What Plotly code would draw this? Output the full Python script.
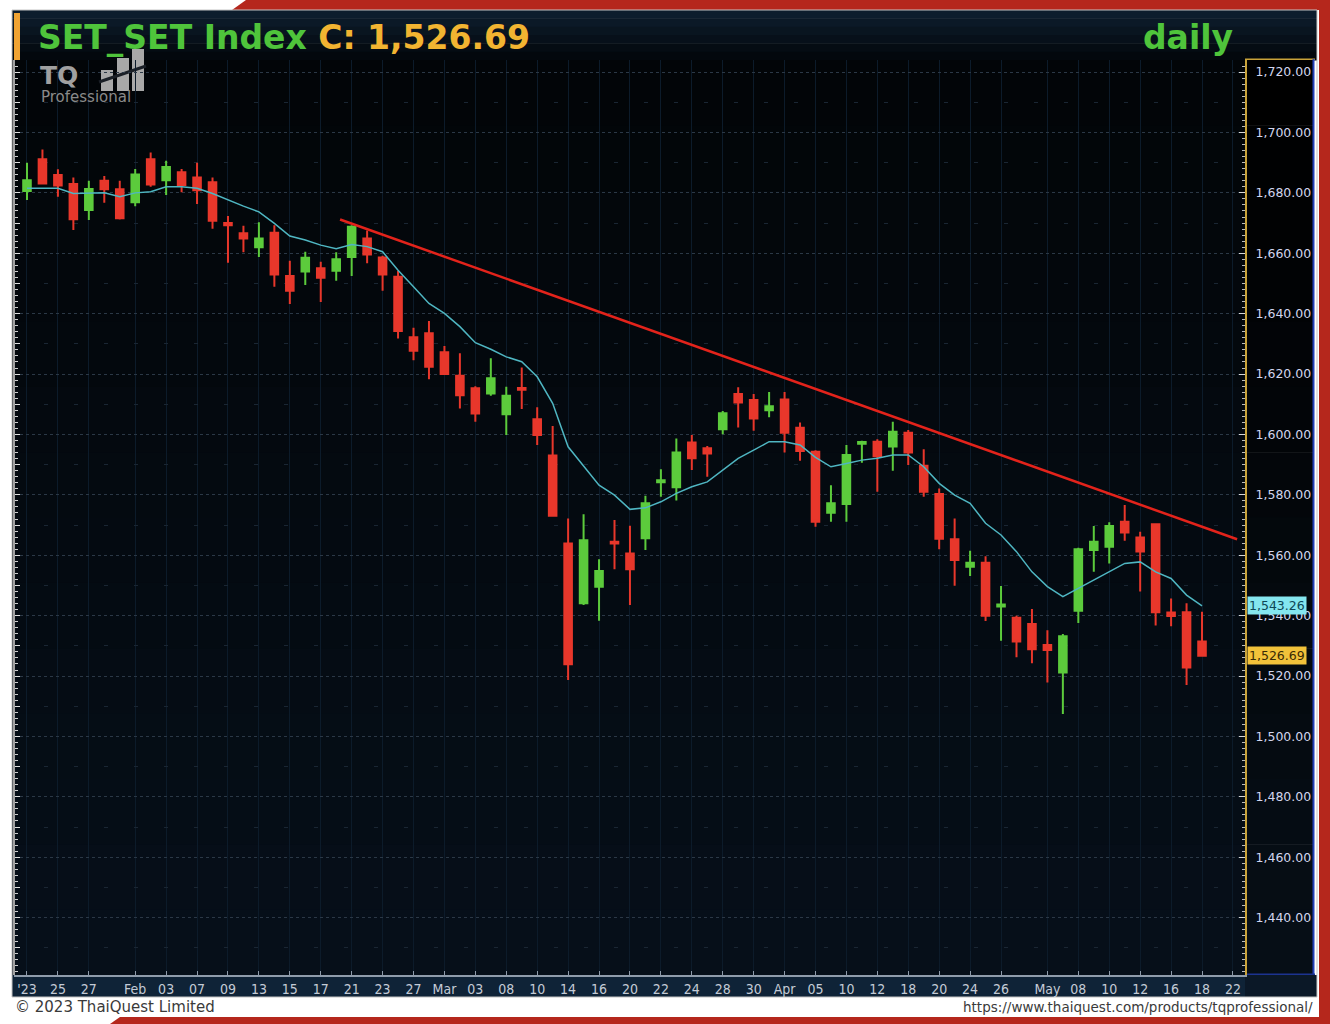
import plotly.graph_objects as go

# ---------------- data ----------------
open_ = [1680.6, 1691.1, 1685.9, 1682.9, 1674.3, 1684.0, 1681.2, 1676.9, 1691.1, 1684.2,
         1686.8, 1685.1, 1683.5, 1670.0, 1666.6, 1662.0, 1666.8, 1652.5, 1654.0, 1655.0,
         1654.2, 1658.8, 1664.9, 1658.6, 1652.2, 1632.2, 1633.5, 1627.2, 1619.4, 1615.3,
         1613.6, 1606.7, 1615.4, 1605.0, 1593.0, 1563.9, 1544.1, 1549.6, 1564.5, 1560.6,
         1565.6, 1584.2, 1582.5, 1597.3, 1595.4, 1601.7, 1613.4, 1611.4, 1608.0, 1611.6,
         1602.2, 1594.3, 1574.1, 1577.0, 1596.9, 1597.6, 1596.0, 1600.6, 1589.6, 1580.3,
         1565.3, 1556.2, 1557.5, 1543.0, 1539.3, 1537.2, 1530.3, 1521.2, 1541.6, 1561.7,
         1562.8, 1571.1, 1565.9, 1570.3, 1541.0, 1541.1, 1531.4]
high = [1690.0, 1694.4, 1687.8, 1685.1, 1684.0, 1685.6, 1684.0, 1687.9, 1693.4, 1690.6,
        1687.9, 1690.0, 1685.1, 1672.3, 1669.1, 1670.3, 1669.3, 1657.5, 1660.5, 1657.2,
        1660.3, 1669.3, 1667.5, 1659.2, 1654.1, 1635.3, 1637.6, 1629.3, 1626.9, 1616.0,
        1625.2, 1615.8, 1622.2, 1609.0, 1602.8, 1572.2, 1573.6, 1558.7, 1571.7, 1569.8,
        1579.7, 1588.5, 1598.7, 1599.8, 1596.2, 1607.8, 1615.6, 1613.4, 1614.1, 1614.1,
        1604.0, 1594.8, 1583.2, 1596.5, 1597.9, 1598.4, 1604.2, 1601.5, 1595.1, 1582.1,
        1572.2, 1561.5, 1559.7, 1549.8, 1540.0, 1542.2, 1535.2, 1533.9, 1562.5, 1569.7,
        1570.9, 1576.6, 1567.8, 1570.6, 1545.7, 1544.1, 1541.3]
low = [1677.6, 1682.9, 1678.7, 1667.7, 1671.0, 1676.7, 1671.2, 1675.6, 1682.0, 1679.3,
       1680.2, 1676.3, 1668.1, 1656.9, 1660.3, 1658.8, 1648.9, 1643.2, 1649.5, 1643.9,
       1650.9, 1652.5, 1656.7, 1647.6, 1631.8, 1624.6, 1618.3, 1619.7, 1608.6, 1604.2,
       1612.8, 1599.8, 1608.4, 1596.5, 1573.0, 1518.7, 1543.5, 1538.3, 1555.4, 1543.5,
       1561.7, 1579.4, 1578.1, 1588.2, 1586.0, 1600.1, 1602.3, 1601.2, 1605.7, 1594.0,
       1591.3, 1569.4, 1571.1, 1571.1, 1590.6, 1581.0, 1588.0, 1589.9, 1579.4, 1562.0,
       1549.9, 1553.1, 1538.2, 1531.7, 1526.2, 1524.2, 1517.9, 1507.4, 1537.6, 1554.5,
       1557.3, 1564.8, 1548.0, 1536.7, 1536.5, 1517.0, 1526.4]
close = [1684.2, 1683.1, 1682.4, 1671.3, 1681.3, 1681.2, 1671.6, 1686.1, 1682.8, 1688.6,
         1682.6, 1680.9, 1670.8, 1669.3, 1664.9, 1664.9, 1653.0, 1647.6, 1658.5, 1651.9,
         1658.0, 1668.8, 1659.6, 1653.0, 1634.3, 1627.7, 1622.4, 1620.0, 1613.0, 1606.9,
         1618.6, 1612.8, 1614.8, 1599.8, 1573.1, 1523.9, 1565.0, 1554.8, 1563.9, 1555.4,
         1577.2, 1584.8, 1594.0, 1592.1, 1593.7, 1607.0, 1610.6, 1605.3, 1609.3, 1600.6,
         1594.5, 1571.1, 1577.2, 1593.2, 1597.5, 1592.8, 1600.9, 1594.0, 1581.0, 1565.5,
         1558.4, 1557.5, 1540.0, 1543.7, 1531.4, 1528.9, 1528.6, 1533.2, 1562.0, 1564.5,
         1569.7, 1567.5, 1561.2, 1541.1, 1539.9, 1522.8, 1526.69]
ma_line = [1681.5, 1681.5, 1681.5, 1679.8, 1679.8, 1680.0, 1678.7, 1680.0, 1680.4, 1682.0,
           1682.0, 1681.5, 1679.8, 1677.6, 1675.6, 1673.7, 1669.9, 1665.7, 1664.4, 1662.7,
           1661.5, 1662.9, 1662.2, 1660.5, 1654.4, 1648.9, 1643.4, 1640.1, 1635.7, 1630.4,
           1628.2, 1625.7, 1624.1, 1619.1, 1610.3, 1595.9, 1589.5, 1583.2, 1579.9, 1575.2,
           1575.7, 1577.7, 1580.5, 1582.7, 1584.3, 1588.2, 1592.1, 1594.8, 1597.6, 1597.6,
           1596.5, 1592.4, 1589.3, 1590.4, 1591.5, 1592.1, 1593.2, 1593.2, 1589.3, 1583.8,
           1579.9, 1577.2, 1570.6, 1566.7, 1561.2, 1554.5, 1549.6, 1546.3, 1549.1, 1551.8,
           1554.5, 1557.3, 1557.8, 1554.5, 1552.3, 1546.8, 1543.26]
trend_x = [20.25, 78.27]
trend_y = [1671.2, 1565.3]

tick_idx = [0, 2, 4, 7, 9, 11, 13, 15, 17, 19, 21, 23, 25, 27, 29, 31, 33, 35, 37, 39,
            41, 43, 45, 47, 49, 51, 53, 55, 57, 59, 61, 63, 66, 68, 70, 72, 74, 76, 78]
tick_text = ["'23", "25", "27", "Feb", "03", "07", "09", "13", "15", "17", "21", "23", "27",
             "Mar", "03", "08", "10", "14", "16", "20", "22", "24", "28", "30",
             "Apr", "05", "10", "12", "18", "20", "24", "26",
             "May", "08", "10", "12", "16", "18", "22"]
minor_grid_levels = [1430, 1450, 1470, 1490, 1510, 1530, 1550, 1570, 1590, 1610,
                     1630, 1650, 1670, 1690, 1710]

# ---------------- styling ----------------
W, H = 1330, 1024
L, R, T, B = 14, 1245, 60, 975
GREEN = "#5ccb3c"
RED = "#e8372b"


def px(x):
    return (x - L) / (R - L)


def py(y):
    return (B - y) / (B - T)


def rect(x0, y0, x1, y1, fill, line=None, lw=0):
    return dict(type="rect", xref="paper", yref="paper", layer="below",
                x0=px(x0), x1=px(x1), y0=py(y0), y1=py(y1),
                fillcolor=fill, line=dict(width=lw, color=line or fill))


def lerp(c1, c2, t):
    return "rgb(%d,%d,%d)" % tuple(round(a + (b - a) * t) for a, b in zip(c1, c2))


shapes = []
# red frame pieces on the white page
shapes.append(dict(type="path", xref="paper", yref="paper", layer="below",
                   path="M %f %f L %f %f L %f %f L %f %f Z" % (px(246), py(0), px(1330), py(0),
                                                             px(1330), py(10), px(232), py(10)),
                   fillcolor="#b5271c", line=dict(width=0)))
shapes.append(rect(1319, 0, 1330, 1024, "#b5271c"))
shapes.append(dict(type="path", xref="paper", yref="paper", layer="below",
                   path="M %f %f L %f %f L %f %f L %f %f Z" % (px(110), py(1024), px(120), py(1017),
                                                             px(1330), py(1017), px(1330), py(1024)),
                   fillcolor="#b5271c", line=dict(width=0)))
# title strip gradient
n = 6
for i in range(n):
    y0 = 10 + (T - 10) * i / n
    y1 = 10 + (T - 10) * (i + 1) / n + 0.5
    shapes.append(rect(12, y0, 1317, y1, lerp((13, 29, 45), (3, 8, 13), i / (n - 1))))
# plot area gradient
n = 14
for i in range(n):
    y0 = T + (B - T) * i / n
    y1 = T + (B - T) * (i + 1) / n + 0.5
    shapes.append(rect(12, y0, R, y1, lerp((2, 5, 8), (6, 15, 25), i / (n - 1))))
    shapes.append(rect(R, y0, 1314, y1, lerp((0, 0, 0), (6, 14, 22), i / (n - 1))))
# x-axis bar and corner
shapes.append(rect(12, B, R, 997, "#0f2337"))
shapes.append(rect(R, B, 1317, 997, "#0b1827"))
# right panel borders
shapes.append(rect(R, 58.5, 1315, 60, "#c9a33a"))
shapes.append(rect(1312.5, 59, 1314.5, B, "#2440b8"))
shapes.append(rect(R, B - 1.5, 1315, B, "#1c3390"))
# panel outline
shapes.append(dict(type="rect", xref="paper", yref="paper", layer="below",
                   x0=px(12), x1=px(1317), y0=py(10), y1=py(997),
                   fillcolor="rgba(0,0,0,0)", line=dict(color="#c4c4c4", width=1)))
# orange marker bar next to the title
shapes.append(rect(14, 13, 20, 60, "#f0a332"))
# logo bars
for (x0, y0, x1, y1) in [(101, 70, 113, 91), (117, 58, 129, 91), (132, 49, 144, 91)]:
    shapes.append(rect(x0, y0, x1, y1, "#a8a8a8"))
shapes.append(dict(type="line", xref="paper", yref="paper", layer="below",
                   x0=px(99), y0=py(82), x1=px(146), y1=py(66),
                   line=dict(color="#1a1f26", width=3)))

xs = list(range(len(close)))

fig = go.Figure()
fig.add_trace(go.Candlestick(
    x=xs, open=open_, high=high, low=low, close=close,
    increasing=dict(line=dict(color=GREEN, width=2), fillcolor=GREEN),
    decreasing=dict(line=dict(color=RED, width=2), fillcolor=RED),
    whiskerwidth=0, showlegend=False, hoverinfo="skip"))
fig.add_trace(go.Scatter(x=xs, y=ma_line, mode="lines", showlegend=False, hoverinfo="skip",
                         line=dict(color="#4fb6c2", width=1.5)))
fig.add_trace(go.Scatter(x=trend_x, y=trend_y, mode="lines", showlegend=False, hoverinfo="skip",
                         line=dict(color="#e3231b", width=2.5)))
fig.add_trace(go.Scatter(x=[], y=[], yaxis="y2", showlegend=False, hoverinfo="skip"))
fig.add_trace(go.Scatter(x=[], y=[], yaxis="y3", showlegend=False, hoverinfo="skip"))

yr = [1421.0, 1724.0]
fig.update_layout(
    width=W, height=H,
    margin=dict(l=L, r=W - R, t=T, b=H - B, pad=0),
    paper_bgcolor="#ffffff", plot_bgcolor="#02050a",
    boxgap=0.3, hovermode=False, showlegend=False,
    xaxis=dict(range=[-0.84, 78.78], tickmode="array", tickvals=tick_idx, ticktext=tick_text,
               tickfont=dict(family="Liberation Sans Narrow, DejaVu Sans Condensed, sans-serif",
                             size=14, color="#c4cbd6"),
               showgrid=True, gridcolor="#0c1b2a", gridwidth=1,
               showline=True, linecolor="#8f9cab", linewidth=2,
               ticks="inside", ticklen=4, tickcolor="#8f9cab",
               zeroline=False, rangeslider=dict(visible=False), fixedrange=True),
    yaxis=dict(side="right", range=yr, tick0=1440, dtick=20, tickformat=",.2f",
               tickfont=dict(family="DejaVu Sans", size=12.5, color="#d2d6ee"),
               showgrid=True, gridcolor="#2b3846", griddash="dot", gridwidth=1,
               showline=True, linecolor="#c9a33a", linewidth=2,
               ticks="inside", ticklen=6, tickcolor="#d8d8d8", tickwidth=1,
               minor=dict(dtick=2, ticks="inside", ticklen=3, tickcolor="#bcbcbc", showgrid=False),
               ticklabelstandoff=6, zeroline=False, fixedrange=True),
    yaxis2=dict(overlaying="y", side="right", range=yr, tickmode="array",
                tickvals=minor_grid_levels, showticklabels=False, ticks="",
                showgrid=True, gridcolor="#1a2633", griddash="4px,26px", gridwidth=1,
                showline=False, zeroline=False, fixedrange=True),
    yaxis3=dict(overlaying="y", side="left", anchor="free", position=0, range=yr,
                dtick=10, tick0=1440, showticklabels=False, showgrid=False,
                showline=True, linecolor="#a2a2a2", linewidth=2,
                ticks="inside", ticklen=5, tickcolor="#e2e2e2",
                minor=dict(dtick=2, ticks="inside", ticklen=3, tickcolor="#cfcfcf", showgrid=False),
                zeroline=False, fixedrange=True),
    shapes=shapes,
)

last_txt = f"{close[-1]:,.2f}"
ma_txt = f"{ma_line[-1]:,.2f}"
annotations = [
    dict(xref="paper", yref="paper", x=px(36), y=py(38), xanchor="left", yanchor="middle",
         showarrow=False,
         text=f'<b><span style="color:#4fc43b">SET_SET Index </span>'
              f'<span style="color:#f2b431">C: {last_txt}</span></b>',
         font=dict(family="DejaVu Sans", size=33)),
    dict(xref="paper", yref="paper", x=px(1235), y=py(38), xanchor="right", yanchor="middle",
         showarrow=False, text="<b>daily</b>",
         font=dict(family="DejaVu Sans", size=33, color="#4fc43b")),
    dict(xref="paper", yref="paper", x=px(38), y=py(75), xanchor="left", yanchor="middle",
         showarrow=False, text="<b>TQ</b>",
         font=dict(family="DejaVu Sans", size=25, color="#a0a0a0")),
    dict(xref="paper", yref="paper", x=px(39), y=py(97), xanchor="left", yanchor="middle",
         showarrow=False, text="Professional",
         font=dict(family="DejaVu Sans", size=15, color="#8a8a8a")),
    dict(xref="paper", yref="y", x=px(1247), y=ma_line[-1], xanchor="left", yanchor="middle",
         showarrow=False, text=ma_txt, bgcolor="#84e6ef", borderpad=1,
         font=dict(family="DejaVu Sans", size=12.5, color="#0e4656")),
    dict(xref="paper", yref="y", x=px(1247), y=close[-1], xanchor="left", yanchor="middle",
         showarrow=False, text=last_txt, bgcolor="#f2c23a", borderpad=1,
         font=dict(family="DejaVu Sans", size=12.5, color="#3a2a05")),
    dict(xref="paper", yref="paper", x=px(13), y=py(1007), xanchor="left", yanchor="middle",
         showarrow=False, text="© 2023 ThaiQuest Limited",
         font=dict(family="DejaVu Sans", size=15, color="#3a3a3a")),
    dict(xref="paper", yref="paper", x=px(1315), y=py(1007), xanchor="right", yanchor="middle",
         showarrow=False, text="https://www.thaiquest.com/products/tqprofessional/",
         font=dict(family="DejaVu Sans", size=13.5, color="#3a3a3a")),
]
fig.update_layout(annotations=annotations)

fig.write_html("out.html", config={"displayModeBar": False},
               post_script="document.body.style.margin='0';document.body.style.overflow='hidden';")
